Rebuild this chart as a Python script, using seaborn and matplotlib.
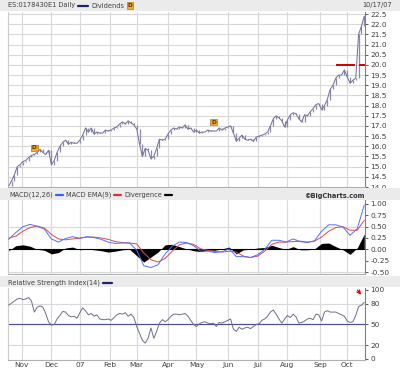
import numpy as np
import pandas as pd
import matplotlib
matplotlib.use("Agg")
import matplotlib.pyplot as plt
import seaborn as sns
from matplotlib.patches import Rectangle
from matplotlib import font_manager

# ---------------- data ----------------
holidays = ['2006-11-23', '2006-12-25', '2007-01-01', '2007-01-15', '2007-02-19',
            '2007-04-06', '2007-05-28', '2007-07-04', '2007-09-03']
month_labels = ['Nov', 'Dec', '07', 'Feb', 'Mar', 'Apr', 'May', 'Jun', 'Jul', 'Aug', 'Sep', 'Oct']

# daily closes, every 2nd trading day
price = [14.05, 14.3, 14.6, 15.0, 15.1, 15.25, 15.3, 15.45, 15.55, 15.6,
         15.7, 15.85, 15.7, 15.6, 15.8, 15.1, 15.3, 15.7, 16.0, 16.2,
         16.3, 16.1, 16.2, 16.15, 16.15, 16.3, 16.55, 16.9, 16.7, 16.9,
         16.6, 16.7, 16.65, 16.65, 16.8, 16.75, 16.8, 16.9, 16.95, 17.1,
         17.2, 17.1, 17.25, 17.15, 17.05, 16.85, 16.1, 15.5, 15.9, 15.8,
         15.4, 15.5, 15.9, 16.35, 16.3, 16.35, 16.6, 16.8, 16.9, 16.85,
         16.95, 16.9, 17.05, 16.85, 16.9, 16.7, 16.8, 16.65, 16.7, 16.7,
         16.8, 16.75, 16.75, 16.75, 16.9, 16.8, 16.9, 16.95, 17.0, 16.65,
         16.25, 16.4, 16.55, 16.35, 16.3, 16.35, 16.25, 16.45, 16.5, 16.55,
         16.6, 16.7, 17.0, 17.35, 17.5, 17.4, 17.25, 16.95, 17.3, 17.55,
         17.65, 17.6, 17.35, 17.2, 17.55, 17.5, 17.7, 17.85, 18.05, 18.1,
         17.8, 18.0, 18.3, 18.8, 19.0, 19.35, 19.5, 19.5, 19.75, 19.4,
         19.1, 19.25, 19.35, 21.5, 21.9, 22.4]

# MACD(12,26) and its EMA(9), every 5th trading day
macd = [0.22, 0.37, 0.50, 0.55, 0.51, 0.45, 0.23, 0.16, 0.24, 0.28,
        0.24, 0.28, 0.26, 0.22, 0.16, 0.13, 0.14, 0.14, -0.02, -0.36,
        -0.40, -0.34, -0.10, 0.07, 0.16, 0.15, 0.08, -0.04, -0.04, -0.07,
        -0.05, 0.01, -0.16, -0.16, -0.18, -0.12, 0.00, 0.20, 0.20, 0.16,
        0.23, 0.17, 0.15, 0.19, 0.40, 0.54, 0.54, 0.49, 0.31, 0.45, 0.98]
macd_ema = [0.25, 0.29, 0.40, 0.48, 0.51, 0.47, 0.33, 0.23, 0.21, 0.23,
            0.25, 0.27, 0.27, 0.25, 0.22, 0.17, 0.15, 0.14, 0.12, -0.08,
            -0.23, -0.28, -0.20, -0.04, 0.10, 0.14, 0.11, 0.01, -0.02, -0.05,
            -0.06, -0.04, -0.06, -0.15, -0.18, -0.15, -0.04, 0.11, 0.16, 0.16,
            0.17, 0.18, 0.16, 0.18, 0.27, 0.40, 0.48, 0.50, 0.42, 0.42, 0.64]

# RSI(14), every 2nd trading day
rsi = [78, 81, 84, 87, 88, 86, 87, 89, 84, 68,
       75, 77, 75, 66, 54, 49, 50, 58, 63, 69,
       68, 63, 61, 62, 59, 67, 74, 70, 64, 66,
       62, 64, 58, 57, 57, 58, 56, 60, 64, 66,
       65, 67, 62, 65, 60, 47, 37, 27, 23, 30,
       45, 30, 40, 52, 57, 54, 57, 62, 65, 65,
       64, 65, 66, 62, 56, 50, 47, 51, 53, 54,
       52, 51, 52, 47, 53, 52, 54, 56, 58, 43,
       40, 46, 43, 45, 46, 44, 47, 50, 51, 56,
       58, 62, 68, 71, 65, 58, 52, 58, 63, 60,
       65, 61, 52, 53, 55, 58, 59, 57, 65, 64,
       55, 68, 70, 68, 68, 68, 66, 64, 62, 55,
       53, 54, 63, 76, 78, 82]

# dividends (trading-day index, price level of marker)
div_day = [18, 144]
div_level = [15.92, 17.19]
resistance = 20.0

# ---------------- layout ----------------
sns.set_theme(style="white")
names = {f.name for f in font_manager.fontManager.ttflist}
narrow = [f for f in ['Liberation Sans Narrow', 'DejaVu Sans Condensed'] if f in names]
plt.rcParams['font.family'] = narrow + ['DejaVu Sans']

W, H = 400, 369
fig = plt.figure(figsize=(4.0, 3.69), dpi=100)
fig.patch.set_facecolor('white')
renderer = fig.canvas.get_renderer()

def ax_at(x0, y0, x1, y1):
    return fig.add_axes([x0 / W, 1 - y1 / H, (x1 - x0) / W, (y1 - y0) / H])

def band(y0, y1):
    fig.patches.append(Rectangle((0, 1 - y1 / H), 1, (y1 - y0) / H,
                                 transform=fig.transFigure, facecolor='#ebebeb',
                                 edgecolor='none', zorder=0))

HDR = 4.8

def ftxt(x, y, s, **kw):
    kw.setdefault('fontsize', HDR)
    kw.setdefault('color', '#404040')
    return fig.text(x / W, 1 - y / H, s, va='center', **kw)

def swatch(x0, x1, y, color):
    fig.lines.append(plt.Line2D([x0 / W, x1 / W], [1 - y / H, 1 - y / H],
                                transform=fig.transFigure, color=color, lw=1.6))

def legend_row(x, y, items):
    """items: ('t', text, min_x) or ('s', color, width); laid out left to right"""
    for it in items:
        if it[0] == 't':
            x = max(x, it[2])
            t = ftxt(x, y, it[1])
            bb = t.get_window_extent(renderer)
            x = x + bb.width + 3
        elif it[0] == 's':
            x = max(x, it[3])
            swatch(x, x + it[2], y, it[1])
            x = x + it[2] + 3
        elif it[0] == 'd':
            x = max(x, it[1])
            ftxt(x + 3, y, 'D', fontsize=4.2, color='#5a3000', ha='center',
                 fontweight='bold',
                 bbox=dict(boxstyle='square,pad=0.15', fc='#f0a830', ec='#c07810', lw=0.5))

band(0, 11)
band(188, 200)
band(276, 287)

days = pd.bdate_range('2006-10-19', '2007-10-17', freq='C', holidays=holidays)
n = len(days)
month_starts = [i for i in range(1, n) if days[i].month != days[i - 1].month]
xp = np.arange(0, n, 2)[:len(price)]
xm = np.arange(0, n, 5)[:len(macd)]
xr = np.arange(0, n, 2)[:len(rsi)]
xlim = (-0.5, n - 0.5)

GRID = '#d8d8d8'

def style(ax, yticks, fmt):
    ax.set_facecolor('white')
    ax.set_xlim(*xlim)
    ax.spines['top'].set_visible(False)
    ax.spines['left'].set_color('#cccccc')
    ax.spines['bottom'].set_color('#b0b0b0')
    ax.spines['right'].set_color('#808080')
    for s in ax.spines.values():
        s.set_linewidth(0.8)
    ax.yaxis.tick_right()
    ax.set_yticks(yticks)
    ax.set_yticklabels([fmt(v) for v in yticks])
    ax.tick_params(axis='y', length=2, width=0.6, pad=2, labelsize=5.3,
                   colors='#404040', right=True, left=False)
    ax.set_xticks(month_starts)
    ax.tick_params(axis='x', length=0, labelbottom=False)
    for m in month_starts:
        ax.axvline(m, color=GRID, lw=0.8, zorder=0)
    ax.set_xlabel('')
    ax.set_ylabel('')

# ---------------- price panel ----------------
ax1 = ax_at(8, 12, 365, 187)
ax1.set_ylim(14.0, 22.6)
yt = np.arange(14.0, 22.51, 0.5)
style(ax1, yt, lambda v: f"{v:.1f}")
for v in yt[1:]:
    ax1.axhline(v, color='#e8d0c8' if v == resistance else GRID, lw=0.8, zorder=0)
lo = np.minimum(price, np.r_[price[0], price[:-1]])
hi = np.maximum(price, np.r_[price[0], price[:-1]])
ax1.vlines(xp, lo, hi, color='#8a8aa6', lw=0.9, zorder=2)
sns.lineplot(x=xp, y=price, ax=ax1, color='#74749a', lw=0.75, zorder=3)
ax1.hlines(resistance, 230, 243.5, color='#cc0000', lw=1.4, zorder=4)
ax1.hlines(resistance, 246.5, n - 0.5, color='#cc0000', lw=1.4, zorder=4)
for d, lv in zip(div_day, div_level):
    ax1.text(d, lv, 'D', fontsize=4.2, color='#5a3000', ha='center', va='center',
             fontweight='bold',
             bbox=dict(boxstyle='square,pad=0.15', fc='#f0a830', ec='#c07810', lw=0.5),
             zorder=5)

# ---------------- MACD panel ----------------
ax2 = ax_at(8, 200, 365, 274)
ax2.set_ylim(-0.543, 1.087)
mt = [-0.5, -0.25, 0.0, 0.25, 0.5, 0.75, 1.0]
style(ax2, mt, lambda v: f"{v:.2f}")
for v in [0.5, -0.5]:
    ax2.axhline(v, color=GRID, lw=0.8, zorder=0)
div = np.array(macd) - np.array(macd_ema)
ax2.fill_between(xm, div, 0, color='black', lw=0, zorder=2)
ax2.axhline(0, color='black', lw=0.8, zorder=2)
sns.lineplot(x=xm, y=macd_ema, ax=ax2, color='#e04848', lw=0.7, zorder=3)
sns.lineplot(x=xm, y=macd, ax=ax2, color='#5070ff', lw=0.7, zorder=3)

# ---------------- RSI panel ----------------
ax3 = ax_at(8, 288, 365, 360)
ax3.set_ylim(-1.5, 102.9)
rt = [0, 20, 50, 80, 100]
style(ax3, rt, lambda v: f"{v:d}")
for v in [20, 80]:
    ax3.axhline(v, color=GRID, lw=0.8, zorder=0)
ax3.axhline(50, color='#50508a', lw=0.9, zorder=2)
sns.lineplot(x=xr, y=rsi, ax=ax3, color='#6e6e8e', lw=0.7, zorder=3)
ax3.set_xticklabels(month_labels)
ax3.tick_params(axis='x', labelbottom=True, labelsize=5.3, colors='#404040', pad=1.5)
ax3.annotate('', xy=(249, 90), xytext=(244, 103), annotation_clip=False,
             arrowprops=dict(arrowstyle='->', color='#dd0000', lw=0.9,
                             mutation_scale=6))

# ---------------- header texts ----------------
legend_row(8, 5.5, [('t', 'ES:0178430E1 Daily', 8), ('s', '#202070', 10, 62),
                    ('t', 'Dividends', 86), ('d', 124)])
ftxt(392, 5, '10/17/07', ha='right')

legend_row(9, 195, [('t', 'MACD(12,26)', 9), ('s', '#3060ff', 7, 49),
                    ('t', 'MACD EMA(9)', 58), ('s', '#e03030', 7, 97),
                    ('t', 'Divergence', 108), ('s', '#000000', 7, 143)])
ftxt(365, 196, '\u00a9BigCharts.com', ha='right', fontweight='bold', color='#333333')

legend_row(8, 282.5, [('t', 'Relative Strength Index(14)', 8), ('s', '#202070', 9, 89)])

fig.savefig('out.png', dpi=100, facecolor='white')
